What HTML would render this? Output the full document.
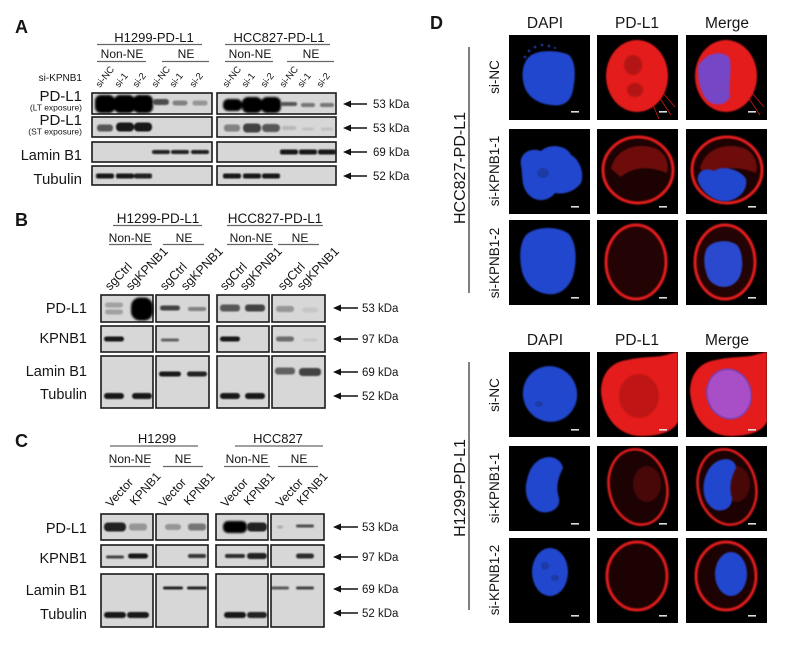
<!DOCTYPE html>
<html><head><meta charset="utf-8"><style>
html,body{margin:0;padding:0;background:#fff;}
svg{display:block;}
text{font-family:"Liberation Sans",Arial,sans-serif;fill:#151515;}
</style></head><body>
<svg width="798" height="654" viewBox="0 0 798 654" xmlns="http://www.w3.org/2000/svg">
<defs>
<filter id="bl" filterUnits="userSpaceOnUse" x="0" y="0" width="798" height="654"><feGaussianBlur stdDeviation="0.9"/></filter>
<filter id="bl2" filterUnits="userSpaceOnUse" x="0" y="0" width="798" height="654"><feGaussianBlur stdDeviation="1.1"/></filter>
<filter id="cb" x="-20%" y="-20%" width="140%" height="140%"><feGaussianBlur stdDeviation="0.7"/></filter>
<clipPath id="cp"><rect x="0" y="0" width="81" height="85"/></clipPath>
</defs>

<!-- ================= PANEL A ================= -->
<text x="15" y="33" font-size="18" font-weight="bold">A</text>
<g font-size="13" text-anchor="middle">
<text x="154" y="42">H1299-PD-L1</text>
<text x="279" y="42">HCC827-PD-L1</text>
</g>
<g stroke="#666" stroke-width="1.2">
<line x1="97" y1="44.5" x2="202" y2="44.5"/>
<line x1="225" y1="44.5" x2="330" y2="44.5"/>
<line x1="97" y1="61.5" x2="146" y2="61.5"/>
<line x1="162" y1="61.5" x2="209" y2="61.5"/>
<line x1="225" y1="61.5" x2="273" y2="61.5"/>
<line x1="287" y1="61.5" x2="334" y2="61.5"/>
</g>
<g font-size="12" text-anchor="middle">
<text x="122" y="58">Non-NE</text>
<text x="186" y="58">NE</text>
<text x="250" y="58">Non-NE</text>
<text x="311" y="58">NE</text>
</g>
<text x="82" y="81" font-size="10" text-anchor="end">si-KPNB1</text>
<g font-size="9.5">
<text transform="translate(100,88) rotate(-52)">si-NC</text>
<text transform="translate(119,88) rotate(-52)">si-1</text>
<text transform="translate(137,88) rotate(-52)">si-2</text>
<text transform="translate(156,88) rotate(-52)">si-NC</text>
<text transform="translate(174,88) rotate(-52)">si-1</text>
<text transform="translate(194,88) rotate(-52)">si-2</text>
<text transform="translate(227,88) rotate(-52)">si-NC</text>
<text transform="translate(246,88) rotate(-52)">si-1</text>
<text transform="translate(265,88) rotate(-52)">si-2</text>
<text transform="translate(284,88) rotate(-52)">si-NC</text>
<text transform="translate(302,88) rotate(-52)">si-1</text>
<text transform="translate(321,88) rotate(-52)">si-2</text>
</g>
<g text-anchor="end">
<text x="82" y="101" font-size="15">PD-L1</text>
<text x="82" y="110.5" font-size="8.5">(LT exposure)</text>
<text x="82" y="125" font-size="15">PD-L1</text>
<text x="82" y="134.5" font-size="8.5">(ST exposure)</text>
<text x="82" y="160" font-size="14.5">Lamin B1</text>
<text x="82" y="184" font-size="15">Tubulin</text>
</g>
<g fill="#d7d7d7" stroke="#1a1a1a" stroke-width="1.6">
<rect x="92" y="93" width="120" height="21"/>
<rect x="217" y="93" width="119" height="21"/>
<rect x="92" y="117" width="120" height="20"/>
<rect x="217" y="117" width="119" height="20"/>
<rect x="92" y="142" width="120" height="20"/>
<rect x="217" y="142" width="119" height="20"/>
<rect x="92" y="166" width="120" height="19"/>
<rect x="217" y="166" width="119" height="19"/>
</g>
<g fill="#050505" filter="url(#bl2)">
<rect x="95" y="95" width="20" height="18" rx="6"/>
<rect x="114" y="95" width="21" height="18" rx="6"/>
<rect x="133" y="95" width="20" height="18" rx="6"/>
<rect x="223" y="99" width="19" height="12" rx="5"/>
<rect x="242" y="97" width="20" height="16" rx="6"/>
<rect x="261" y="97" width="20" height="16" rx="6"/>
</g>
<g fill="#101010" filter="url(#bl)">
<rect x="153" y="99" width="16" height="6" rx="3" opacity=".7"/>
<rect x="172.5" y="100.5" width="15" height="5" rx="2.5" opacity=".4"/>
<rect x="192.5" y="100.5" width="15" height="5" rx="2.5" opacity=".35"/>
<rect x="281" y="102" width="16" height="4" rx="2" opacity=".65"/>
<rect x="301" y="103" width="14" height="4" rx="2" opacity=".5"/>
<rect x="320" y="103" width="14" height="4" rx="2" opacity=".5"/>
<rect x="97" y="124.5" width="16" height="7" rx="3" opacity=".65"/>
<rect x="116" y="122.5" width="18" height="9" rx="4" opacity=".95"/>
<rect x="134" y="122.5" width="18" height="9" rx="4" opacity=".95"/>
<rect x="224" y="124.5" width="16" height="7" rx="3" opacity=".45"/>
<rect x="243" y="123.5" width="18" height="9" rx="4" opacity=".75"/>
<rect x="262" y="124" width="18" height="8" rx="4" opacity=".65"/>
<rect x="282" y="126" width="14" height="4" rx="2" opacity=".15"/>
<rect x="302" y="127.5" width="12" height="3" rx="1.5" opacity=".1"/>
<rect x="321" y="127.5" width="12" height="3" rx="1.5" opacity=".1"/>
<rect x="152" y="150" width="18" height="4" rx="2" opacity=".9"/>
<rect x="171" y="150" width="18" height="4" rx="2" opacity=".9"/>
<rect x="191" y="150" width="18" height="4" rx="2" opacity=".9"/>
<rect x="280" y="149.5" width="18" height="5" rx="2" opacity=".95"/>
<rect x="299" y="149.5" width="18" height="5" rx="2" opacity=".95"/>
<rect x="318" y="149.5" width="18" height="5" rx="2" opacity=".95"/>
<rect x="96" y="173.5" width="18" height="5" rx="2" opacity=".95"/>
<rect x="116" y="173.5" width="18" height="5" rx="2" opacity=".95"/>
<rect x="134" y="173.5" width="18" height="5" rx="2" opacity=".9"/>
<rect x="223" y="173.5" width="18" height="5" rx="2" opacity=".95"/>
<rect x="243" y="173.5" width="18" height="5" rx="2" opacity=".95"/>
<rect x="262" y="173.5" width="18" height="5" rx="2" opacity=".95"/>
</g>
<g stroke="#111" stroke-width="1.6" fill="#111">
<line x1="349" y1="104" x2="367" y2="104"/><polygon points="343,104 351,100.5 351,107.5" stroke="none"/>
<line x1="349" y1="128" x2="367" y2="128"/><polygon points="343,128 351,124.5 351,131.5" stroke="none"/>
<line x1="349" y1="152" x2="367" y2="152"/><polygon points="343,152 351,148.5 351,155.5" stroke="none"/>
<line x1="349" y1="176" x2="367" y2="176"/><polygon points="343,176 351,172.5 351,179.5" stroke="none"/>
</g>
<g font-size="11.5">
<text x="373" y="108">53 kDa</text>
<text x="373" y="132">53 kDa</text>
<text x="373" y="156">69 kDa</text>
<text x="373" y="180">52 kDa</text>
</g>

<!-- ================= PANEL B ================= -->
<text x="15" y="226" font-size="18" font-weight="bold">B</text>
<g font-size="13.5" text-anchor="middle">
<text x="158" y="223">H1299-PD-L1</text>
<text x="275" y="223">HCC827-PD-L1</text>
</g>
<g stroke="#666" stroke-width="1.2">
<line x1="113" y1="225.5" x2="202" y2="225.5"/>
<line x1="227" y1="225.5" x2="323" y2="225.5"/>
<line x1="109" y1="244.5" x2="152" y2="244.5"/>
<line x1="163" y1="244.5" x2="204" y2="244.5"/>
<line x1="227" y1="244.5" x2="273" y2="244.5"/>
<line x1="278" y1="244.5" x2="319" y2="244.5"/>
</g>
<g font-size="12" text-anchor="middle">
<text x="130" y="242">Non-NE</text>
<text x="184" y="242">NE</text>
<text x="251" y="242">Non-NE</text>
<text x="300" y="242">NE</text>
</g>
<g font-size="12.5">
<text transform="translate(110,291) rotate(-46)">sgCtrl</text>
<text transform="translate(131,291) rotate(-46)">sgKPNB1</text>
<text transform="translate(165,291) rotate(-46)">sgCtrl</text>
<text transform="translate(186,291) rotate(-46)">sgKPNB1</text>
<text transform="translate(225,291) rotate(-46)">sgCtrl</text>
<text transform="translate(245,291) rotate(-46)">sgKPNB1</text>
<text transform="translate(283,291) rotate(-46)">sgCtrl</text>
<text transform="translate(302,291) rotate(-46)">sgKPNB1</text>
</g>
<g text-anchor="end" font-size="14.5">
<text x="87" y="313">PD-L1</text>
<text x="87" y="343">KPNB1</text>
<text x="87" y="376">Lamin B1</text>
<text x="87" y="399">Tubulin</text>
</g>
<g fill="#d7d7d7" stroke="#1a1a1a" stroke-width="1.6">
<rect x="101" y="295" width="52" height="27"/>
<rect x="156" y="295" width="53" height="27"/>
<rect x="217" y="295" width="52" height="27"/>
<rect x="272" y="295" width="53" height="27"/>
<rect x="101" y="326" width="52" height="26"/>
<rect x="156" y="326" width="53" height="26"/>
<rect x="217" y="326" width="52" height="26"/>
<rect x="272" y="326" width="53" height="26"/>
<rect x="101" y="356" width="52" height="52"/>
<rect x="156" y="356" width="53" height="52"/>
<rect x="217" y="356" width="52" height="52"/>
<rect x="272" y="356" width="53" height="52"/>
</g>
<g fill="#050505" filter="url(#bl2)">
<rect x="131" y="297.5" width="22" height="23" rx="9"/>
</g>
<g fill="#101010" filter="url(#bl)">
<rect x="105" y="302.5" width="18" height="5" rx="2.5" opacity=".25"/>
<rect x="105" y="309.5" width="18" height="5" rx="2.5" opacity=".25"/>
<rect x="160" y="305.5" width="20" height="5" rx="2.5" opacity=".75"/>
<rect x="188" y="307" width="18" height="4" rx="2" opacity=".45"/>
<rect x="220" y="304.5" width="20" height="7" rx="3" opacity=".65"/>
<rect x="245" y="304.5" width="20" height="7" rx="3" opacity=".75"/>
<rect x="276" y="306" width="18" height="6" rx="3" opacity=".35"/>
<rect x="302" y="307.5" width="16" height="5" rx="2.5" opacity=".08"/>
<rect x="104" y="336.5" width="20" height="5" rx="2.5" opacity=".95"/>
<rect x="161" y="338.5" width="18" height="3" rx="1.5" opacity=".6"/>
<rect x="220" y="336.5" width="20" height="5" rx="2.5" opacity=".95"/>
<rect x="276" y="336.5" width="18" height="5" rx="2.5" opacity=".55"/>
<rect x="303" y="338.5" width="14" height="3" rx="1.5" opacity=".08"/>
<rect x="159" y="371.5" width="22" height="5" rx="2.5" opacity=".95"/>
<rect x="187" y="371.5" width="20" height="5" rx="2.5" opacity=".9"/>
<rect x="275" y="367.5" width="20" height="7" rx="3" opacity=".6"/>
<rect x="299" y="368" width="22" height="8" rx="3.5" opacity=".75"/>
<rect x="104" y="393" width="20" height="6" rx="3" opacity=".95"/>
<rect x="132" y="393" width="20" height="6" rx="3" opacity=".95"/>
<rect x="220" y="393" width="20" height="6" rx="3" opacity=".95"/>
<rect x="245" y="393" width="20" height="6" rx="3" opacity=".95"/>
</g>
<g stroke="#111" stroke-width="1.6" fill="#111">
<line x1="339" y1="308" x2="358" y2="308"/><polygon points="333,308 341,304.5 341,311.5" stroke="none"/>
<line x1="339" y1="339" x2="358" y2="339"/><polygon points="333,339 341,335.5 341,342.5" stroke="none"/>
<line x1="339" y1="372" x2="358" y2="372"/><polygon points="333,372 341,368.5 341,375.5" stroke="none"/>
<line x1="339" y1="396" x2="358" y2="396"/><polygon points="333,396 341,392.5 341,399.5" stroke="none"/>
</g>
<g font-size="11.5">
<text x="362" y="312">53 kDa</text>
<text x="362" y="343">97 kDa</text>
<text x="362" y="376">69 kDa</text>
<text x="362" y="400">52 kDa</text>
</g>

<!-- ================= PANEL C ================= -->
<text x="15" y="447" font-size="18" font-weight="bold">C</text>
<g font-size="13" text-anchor="middle">
<text x="157" y="443">H1299</text>
<text x="278" y="443">HCC827</text>
</g>
<g stroke="#666" stroke-width="1.2">
<line x1="110" y1="446" x2="198" y2="446"/>
<line x1="235" y1="446" x2="323" y2="446"/>
<line x1="110" y1="466.5" x2="150" y2="466.5"/>
<line x1="163" y1="466.5" x2="203" y2="466.5"/>
<line x1="224" y1="466.5" x2="270" y2="466.5"/>
<line x1="278" y1="466.5" x2="318" y2="466.5"/>
</g>
<g font-size="12" text-anchor="middle">
<text x="130" y="463">Non-NE</text>
<text x="183" y="463">NE</text>
<text x="247" y="463">Non-NE</text>
<text x="299" y="463">NE</text>
</g>
<g font-size="12">
<text transform="translate(111,508) rotate(-48)">Vector</text>
<text transform="translate(135,506) rotate(-48)">KPNB1</text>
<text transform="translate(164,508) rotate(-48)">Vector</text>
<text transform="translate(189,506) rotate(-48)">KPNB1</text>
<text transform="translate(226,508) rotate(-48)">Vector</text>
<text transform="translate(249,506) rotate(-48)">KPNB1</text>
<text transform="translate(281,508) rotate(-48)">Vector</text>
<text transform="translate(302,506) rotate(-48)">KPNB1</text>
</g>
<g text-anchor="end" font-size="14.5">
<text x="87" y="533">PD-L1</text>
<text x="87" y="563">KPNB1</text>
<text x="87" y="595">Lamin B1</text>
<text x="87" y="619">Tubulin</text>
</g>
<g fill="#d7d7d7" stroke="#1a1a1a" stroke-width="1.6">
<rect x="101" y="514" width="52" height="26"/>
<rect x="156" y="514" width="52" height="26"/>
<rect x="216" y="514" width="52" height="26"/>
<rect x="271" y="514" width="53" height="26"/>
<rect x="101" y="545" width="52" height="22"/>
<rect x="156" y="545" width="52" height="22"/>
<rect x="216" y="545" width="52" height="22"/>
<rect x="271" y="545" width="53" height="22"/>
<rect x="101" y="574" width="52" height="53"/>
<rect x="156" y="574" width="52" height="53"/>
<rect x="216" y="574" width="52" height="53"/>
<rect x="271" y="574" width="53" height="53"/>
</g>
<g fill="#050505" filter="url(#bl2)">
<rect x="223" y="521" width="24" height="12" rx="5"/>
</g>
<g fill="#101010" filter="url(#bl)">
<rect x="104" y="522.5" width="22" height="9" rx="4" opacity=".9"/>
<rect x="129" y="523.5" width="18" height="7" rx="3" opacity=".35"/>
<rect x="165" y="524" width="16" height="6" rx="3" opacity=".3"/>
<rect x="188" y="523.5" width="18" height="7" rx="3" opacity=".5"/>
<rect x="247" y="522.5" width="20" height="9" rx="4" opacity=".9"/>
<rect x="277" y="525.5" width="6" height="3" rx="1.5" opacity=".2"/>
<rect x="296" y="524.5" width="18" height="3" rx="1.5" opacity=".7"/>
<rect x="106" y="555.5" width="18" height="3" rx="1.5" opacity=".75"/>
<rect x="128" y="553.5" width="20" height="5" rx="2.5" opacity=".95"/>
<rect x="188" y="554" width="18" height="4" rx="2" opacity=".8"/>
<rect x="225" y="554" width="20" height="4" rx="2" opacity=".85"/>
<rect x="247" y="553" width="20" height="6" rx="3" opacity=".9"/>
<rect x="296" y="553.5" width="18" height="5" rx="2.5" opacity=".85"/>
<rect x="163" y="586.5" width="20" height="3" rx="1.5" opacity=".9"/>
<rect x="187" y="586.5" width="20" height="3" rx="1.5" opacity=".9"/>
<rect x="271" y="586.5" width="18" height="3" rx="1.5" opacity=".65"/>
<rect x="296" y="586.5" width="18" height="3" rx="1.5" opacity=".75"/>
<rect x="104" y="612" width="22" height="6" rx="3" opacity=".95"/>
<rect x="127" y="612" width="22" height="6" rx="3" opacity=".95"/>
<rect x="224" y="612" width="22" height="6" rx="3" opacity=".95"/>
<rect x="247" y="612" width="20" height="6" rx="3" opacity=".9"/>
</g>
<g stroke="#111" stroke-width="1.6" fill="#111">
<line x1="339" y1="527" x2="358" y2="527"/><polygon points="333,527 341,523.5 341,530.5" stroke="none"/>
<line x1="339" y1="557" x2="358" y2="557"/><polygon points="333,557 341,553.5 341,560.5" stroke="none"/>
<line x1="339" y1="589" x2="358" y2="589"/><polygon points="333,589 341,585.5 341,592.5" stroke="none"/>
<line x1="339" y1="613" x2="358" y2="613"/><polygon points="333,613 341,609.5 341,616.5" stroke="none"/>
</g>
<g font-size="11.5">
<text x="362" y="531">53 kDa</text>
<text x="362" y="561">97 kDa</text>
<text x="362" y="593">69 kDa</text>
<text x="362" y="617">52 kDa</text>
</g>

<!-- ================= PANEL D ================= -->
<text x="430" y="29" font-size="18" font-weight="bold">D</text>
<g font-size="15.5" text-anchor="middle">
<text x="545" y="28">DAPI</text>
<text x="637" y="28">PD-L1</text>
<text x="727" y="28">Merge</text>
<text x="545" y="345">DAPI</text>
<text x="637" y="345">PD-L1</text>
<text x="727" y="345">Merge</text>
</g>
<g stroke="#555" stroke-width="1.5">
<line x1="469" y1="47" x2="469" y2="293"/>
<line x1="469" y1="362" x2="469" y2="610"/>
</g>
<g font-size="16" text-anchor="middle">
<text transform="translate(465,168) rotate(-90)">HCC827-PD-L1</text>
<text transform="translate(465,488) rotate(-90)">H1299-PD-L1</text>
</g>
<g font-size="13.5" text-anchor="middle">
<text transform="translate(499,77) rotate(-90)">si-NC</text>
<text transform="translate(499,171) rotate(-90)">si-KPNB1-1</text>
<text transform="translate(499,263) rotate(-90)">si-KPNB1-2</text>
<text transform="translate(499,395) rotate(-90)">si-NC</text>
<text transform="translate(499,488) rotate(-90)">si-KPNB1-1</text>
<text transform="translate(499,580) rotate(-90)">si-KPNB1-2</text>
</g>

<!-- Top R1 -->
<g transform="translate(509,35)" clip-path="url(#cp)">
<rect width="81" height="85" fill="#000"/>
<g fill="#233fb0" opacity=".7"><circle cx="20" cy="16" r="1.5"/><circle cx="26" cy="12" r="1.5"/><circle cx="33" cy="10" r="1.5"/><circle cx="40" cy="11" r="1.5"/><circle cx="16" cy="22" r="1.5"/><circle cx="46" cy="13" r="1.2"/></g>
<path filter="url(#cb)" d="M20,22 C28,14 50,15 60,20 C68,28 66,45 64,55 C62,66 55,72 42,70 C30,69 18,62 15,50 C12,38 14,28 20,22Z" fill="#2447cf"/>
<rect x="62" y="76" width="8" height="1.6" fill="#ddd"/>
</g>
<g transform="translate(597,35)" clip-path="url(#cp)">
<rect width="81" height="85" fill="#000"/>
<ellipse cx="40" cy="41" rx="31" ry="36" fill="#e41c1c" filter="url(#cb)"/>
<ellipse cx="36" cy="30" rx="9" ry="10" fill="#7a0c0c" opacity=".45" filter="url(#cb)"/>
<ellipse cx="38" cy="55" rx="8" ry="7" fill="#7a0c0c" opacity=".45" filter="url(#cb)"/>
<g stroke="#d01818" stroke-width="0.8"><line x1="62" y1="62" x2="74" y2="80"/><line x1="66" y1="58" x2="78" y2="72"/><line x1="56" y1="70" x2="62" y2="84"/></g>
<rect x="62" y="76" width="8" height="1.6" fill="#ddd"/>
</g>
<g transform="translate(686,35)" clip-path="url(#cp)">
<rect width="81" height="85" fill="#000"/>
<ellipse cx="40" cy="41" rx="31" ry="36" fill="#e41c1c" filter="url(#cb)"/>
<path filter="url(#cb)" d="M16,26 C24,16 40,16 44,24 C46,36 42,50 44,62 C40,70 30,72 22,66 C14,58 12,44 12,36 C12,30 13,28 16,26Z" fill="#7048d0" opacity=".95"/>
<g stroke="#d01818" stroke-width="0.8"><line x1="62" y1="62" x2="74" y2="80"/><line x1="66" y1="58" x2="78" y2="72"/></g>
<rect x="62" y="76" width="8" height="1.6" fill="#ddd"/>
</g>

<!-- Top R2 -->
<g transform="translate(509,129)" clip-path="url(#cp)">
<rect width="81" height="85" fill="#000"/>
<path filter="url(#cb)" d="M12,36 C10,24 22,18 32,22 C40,14 58,16 62,26 C70,30 76,44 72,54 C66,62 56,66 46,64 C40,72 28,74 20,66 C12,58 14,48 12,36Z" fill="#2447cf"/>
<ellipse cx="34" cy="44" rx="6" ry="5" fill="#16307f" opacity=".5"/>
<rect x="62" y="77" width="8" height="1.6" fill="#ddd"/>
</g>
<g transform="translate(597,129)" clip-path="url(#cp)">
<rect width="81" height="85" fill="#000"/>
<ellipse cx="41" cy="41" rx="35" ry="33" fill="#8a0a0a" opacity=".2"/>
<path d="M14,40 C18,20 40,12 60,20 C70,26 72,36 70,44 C60,40 40,34 24,48 Z" fill="#c01414" opacity=".5" filter="url(#cb)"/>
<ellipse cx="41" cy="41" rx="35" ry="33" fill="none" stroke="#e61c1c" stroke-width="3" filter="url(#cb)"/>
<rect x="62" y="77" width="8" height="1.6" fill="#ddd"/>
</g>
<g transform="translate(686,129)" clip-path="url(#cp)">
<rect width="81" height="85" fill="#000"/>
<ellipse cx="41" cy="41" rx="35" ry="33" fill="#8a0a0a" opacity=".2"/>
<path d="M14,40 C18,20 40,12 60,20 C70,26 72,36 70,44 C60,40 40,34 24,48 Z" fill="#c01414" opacity=".5" filter="url(#cb)"/>
<ellipse cx="41" cy="41" rx="35" ry="33" fill="none" stroke="#e61c1c" stroke-width="3" filter="url(#cb)"/>
<path filter="url(#cb)" d="M12,52 C10,42 20,38 28,42 C36,36 54,40 60,50 C62,60 54,70 42,72 C30,74 16,64 12,52Z" fill="#2447cf"/>
<rect x="62" y="77" width="8" height="1.6" fill="#ddd"/>
</g>

<!-- Top R3 -->
<g transform="translate(509,220)" clip-path="url(#cp)">
<rect width="81" height="85" fill="#000"/>
<path filter="url(#cb)" d="M18,14 C28,6 50,6 60,14 C68,24 68,42 64,56 C60,68 50,76 38,74 C24,72 14,62 12,46 C10,32 12,20 18,14Z" fill="#2447cf"/>
<rect x="62" y="77" width="8" height="1.6" fill="#ddd"/>
</g>
<g transform="translate(597,220)" clip-path="url(#cp)">
<rect width="81" height="85" fill="#000"/>
<ellipse cx="39" cy="42" rx="30" ry="37" fill="#8a0a0a" opacity=".25"/>
<ellipse cx="39" cy="42" rx="30" ry="37" fill="none" stroke="#e61c1c" stroke-width="3" filter="url(#cb)"/>
<rect x="62" y="77" width="8" height="1.6" fill="#ddd"/>
</g>
<g transform="translate(686,220)" clip-path="url(#cp)">
<rect width="81" height="85" fill="#000"/>
<ellipse cx="39" cy="42" rx="30" ry="37" fill="#8a0a0a" opacity=".25"/>
<ellipse cx="39" cy="42" rx="30" ry="37" fill="none" stroke="#e61c1c" stroke-width="3" filter="url(#cb)"/>
<path filter="url(#cb)" d="M20,30 C24,20 44,18 52,26 C58,36 58,54 50,62 C42,70 28,68 22,58 C18,48 17,38 20,30Z" fill="#2a48cf"/>
<rect x="62" y="77" width="8" height="1.6" fill="#ddd"/>
</g>

<!-- Bottom R1 -->
<g transform="translate(509,352)" clip-path="url(#cp)">
<rect width="81" height="85" fill="#000"/>
<ellipse cx="41" cy="42" rx="27" ry="28" transform="rotate(-20 41 42)" fill="#2447cf" filter="url(#cb)"/>
<ellipse cx="30" cy="52" rx="4" ry="3" fill="#16307f" opacity=".5"/>
<rect x="62" y="77" width="8" height="1.6" fill="#ddd"/>
</g>
<g transform="translate(597,352)" clip-path="url(#cp)">
<rect width="81" height="85" fill="#000"/>
<path filter="url(#cb)" d="M4,40 C4,22 14,10 30,8 C46,4 62,6 72,2 L81,0 L81,70 C76,80 62,84 44,84 C22,84 6,66 4,40Z" fill="#e41c1c"/>
<ellipse cx="42" cy="44" rx="20" ry="22" fill="#8a0e0e" opacity=".4" filter="url(#cb)"/>
<rect x="62" y="77" width="8" height="1.6" fill="#ddd"/>
</g>
<g transform="translate(686,352)" clip-path="url(#cp)">
<rect width="81" height="85" fill="#000"/>
<path filter="url(#cb)" d="M4,40 C4,22 14,10 30,8 C46,4 62,6 72,2 L81,0 L81,70 C76,80 62,84 44,84 C22,84 6,66 4,40Z" fill="#e41c1c"/>
<ellipse cx="43" cy="42" rx="22" ry="25" transform="rotate(-15 43 42)" fill="#a850c8" filter="url(#cb)"/>
<ellipse cx="43" cy="42" rx="22" ry="25" transform="rotate(-15 43 42)" fill="none" stroke="#6a40c0" stroke-width="2" opacity=".6"/>
<rect x="62" y="77" width="8" height="1.6" fill="#ddd"/>
</g>

<!-- Bottom R2 -->
<g transform="translate(509,446)" clip-path="url(#cp)">
<rect width="81" height="85" fill="#000"/>
<path filter="url(#cb)" d="M30,14 C40,8 52,12 54,22 C50,30 46,40 50,52 C52,62 42,68 32,66 C20,62 14,48 18,34 C20,24 24,18 30,14Z" fill="#2447cf"/>
<rect x="62" y="77" width="8" height="1.6" fill="#ddd"/>
</g>
<g transform="translate(597,446)" clip-path="url(#cp)">
<rect width="81" height="85" fill="#000"/>
<ellipse cx="41" cy="41" rx="29" ry="38" transform="rotate(-12 41 41)" fill="#8a0a0a" opacity=".2"/>
<ellipse cx="50" cy="38" rx="14" ry="18" fill="#b01414" opacity=".3" filter="url(#cb)"/>
<ellipse cx="41" cy="41" rx="29" ry="38" transform="rotate(-12 41 41)" fill="none" stroke="#e41c1c" stroke-width="2.6" filter="url(#cb)"/>
<rect x="62" y="77" width="8" height="1.6" fill="#ddd"/>
</g>
<g transform="translate(686,446)" clip-path="url(#cp)">
<rect width="81" height="85" fill="#000"/>
<ellipse cx="41" cy="41" rx="29" ry="38" transform="rotate(-12 41 41)" fill="#8a0a0a" opacity=".2"/>
<ellipse cx="50" cy="38" rx="14" ry="18" fill="#b01414" opacity=".3" filter="url(#cb)"/>
<ellipse cx="41" cy="41" rx="29" ry="38" transform="rotate(-12 41 41)" fill="none" stroke="#e41c1c" stroke-width="2.6" filter="url(#cb)"/>
<path filter="url(#cb)" d="M30,16 C40,10 50,14 50,22 C46,30 42,40 46,52 C46,62 38,66 30,64 C20,60 16,48 18,36 C20,26 24,20 30,16Z" fill="#2447cf"/>
<rect x="62" y="77" width="8" height="1.6" fill="#ddd"/>
</g>

<!-- Bottom R3 -->
<g transform="translate(509,538)" clip-path="url(#cp)">
<rect width="81" height="85" fill="#000"/>
<ellipse cx="41" cy="34" rx="18" ry="24" fill="#2447cf" filter="url(#cb)"/>
<ellipse cx="36" cy="28" rx="4" ry="4" fill="#16307f" opacity=".5"/>
<ellipse cx="46" cy="40" rx="4" ry="3" fill="#16307f" opacity=".5"/>
<rect x="62" y="77" width="8" height="1.6" fill="#ddd"/>
</g>
<g transform="translate(597,538)" clip-path="url(#cp)">
<rect width="81" height="85" fill="#000"/>
<ellipse cx="40" cy="38" rx="30" ry="34" fill="#8a0a0a" opacity=".2"/>
<ellipse cx="40" cy="38" rx="30" ry="34" fill="none" stroke="#e01a1a" stroke-width="3" filter="url(#cb)"/>
<rect x="62" y="77" width="8" height="1.6" fill="#ddd"/>
</g>
<g transform="translate(686,538)" clip-path="url(#cp)">
<rect width="81" height="85" fill="#000"/>
<ellipse cx="40" cy="38" rx="30" ry="34" fill="#8a0a0a" opacity=".2"/>
<ellipse cx="40" cy="38" rx="30" ry="34" fill="none" stroke="#e01a1a" stroke-width="3" filter="url(#cb)"/>
<ellipse cx="45" cy="36" rx="16" ry="22" fill="#2447cf" filter="url(#cb)"/>
<rect x="62" y="77" width="8" height="1.6" fill="#ddd"/>
</g>
</svg>
</body></html>
